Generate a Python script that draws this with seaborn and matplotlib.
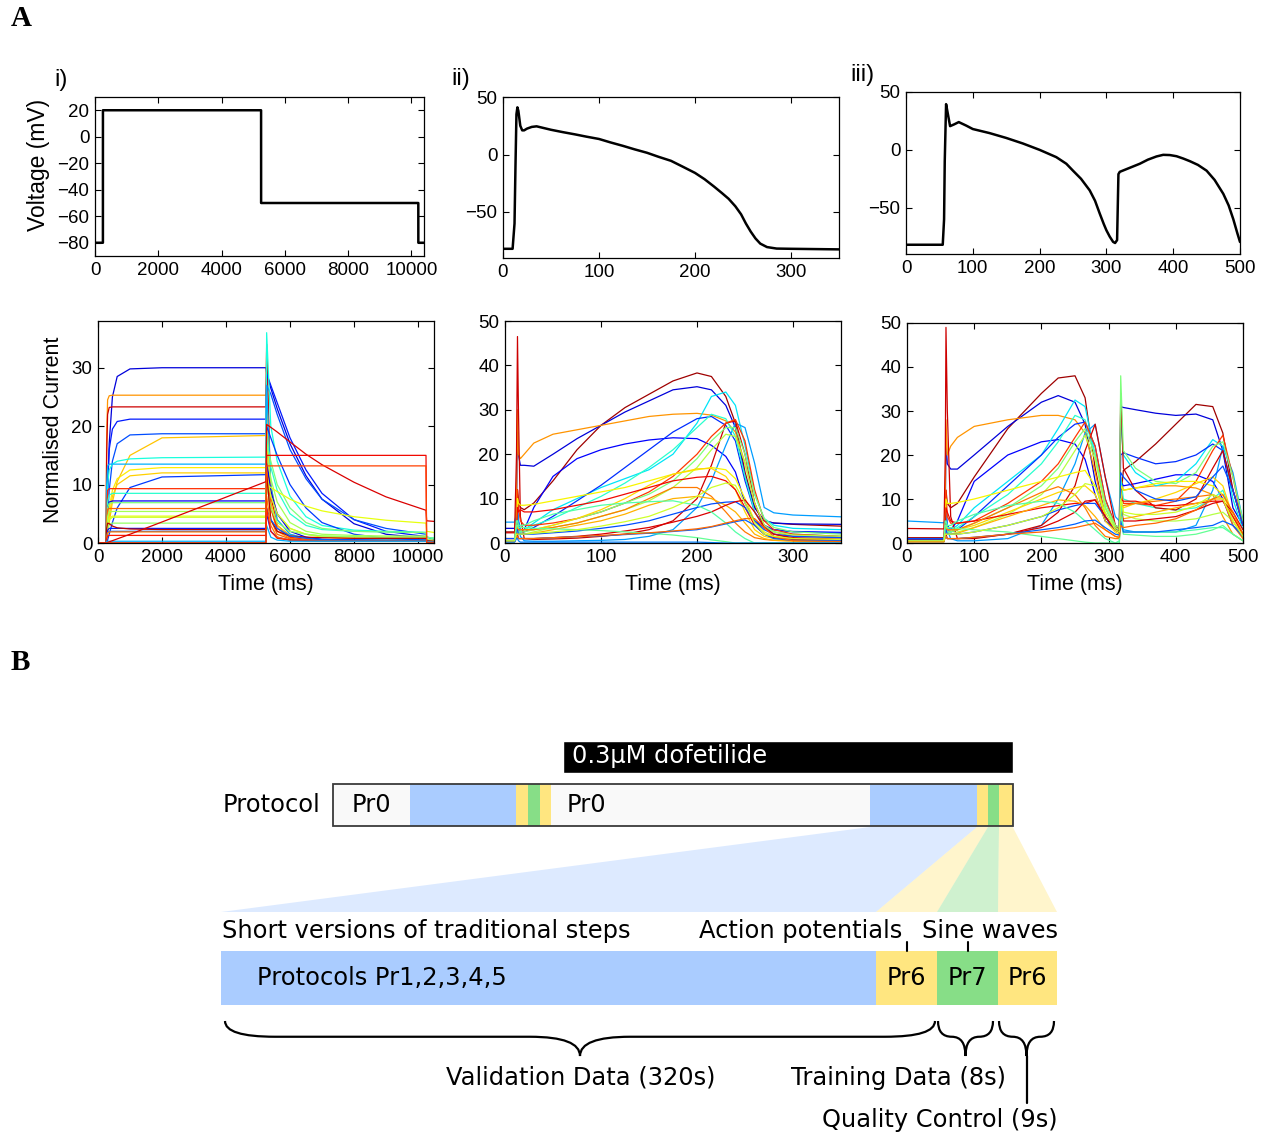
import numpy as np
import pandas as pd
import matplotlib
matplotlib.use('Agg')
import matplotlib.pyplot as plt
from matplotlib.patches import Polygon, Rectangle, PathPatch
from matplotlib.path import Path
import seaborn as sns

W, H = 1268, 1133

# ---------------- data: panel A, voltage protocols ----------------
step_time = [0, 250, 251, 5250, 5251, 10220, 10221, 10400]
step_volt = [-80, -80, 20, 20, -50, -50, -80, -80]

ap_time = [0, 10, 12, 13, 14, 15, 16, 18, 20, 22, 25, 30, 35, 40, 50, 62, 75, 87, 100, 112,
           125, 137, 150, 162, 175, 187, 200, 210, 220, 228, 235, 242, 248, 253, 258, 263,
           268, 275, 285, 300, 350]
ap_volt = [-82, -82, -60, -10, 35, 41, 38, 25, 21, 21, 22.5, 24, 24.5, 23.5, 21.5, 19.5, 17.5,
           15.5, 13.5, 10.5, 7.5, 4.5, 1.5, -2, -5.5, -10.5, -16, -21.5, -28, -33.5, -38.5, -45,
           -52, -60, -67, -73, -77.5, -80.5, -81.8, -82, -82.5]

ap2_time = [0, 55, 57, 58, 60, 63, 66, 72, 79, 90, 100, 125, 150, 175, 200, 225, 240, 250,
            262, 275, 283, 290, 296, 300, 305, 310, 313, 316, 318, 320, 335, 350, 362, 375,
            385, 395, 405, 415, 425, 437, 450, 462, 475, 483, 490, 496, 500]
ap2_volt = [-82, -82, -60, -10, 39.5, 30, 20.5, 22, 24, 21, 18, 14.5, 10.3, 5.5, 0, -6.3, -12,
            -18, -25, -35, -44, -55, -64, -69.5, -75, -79.5, -80.5, -78, -21, -19, -15.5, -12,
            -8.5, -5.7, -4.3, -4.5, -5.5, -7.5, -9.8, -13, -18, -26, -38, -48, -60, -72, -79.6]

# ---------------- data: panel A, normalised currents ----------------
t_iv = [0, 250, 270, 300, 350, 450, 600, 1000, 2000, 5250, 5270, 5400, 5600, 6000, 6500,
        7000, 8000, 9000, 10250, 10270, 10500]
iv_traces = [
    [0, 0, 2, 8, 17, 25, 28.5, 29.8, 30, 30, 29, 26.5, 23, 17, 11.5, 7.5, 3.3, 1.5, 0.8, 0.5, 0.3],
    [0, 0, 18, 24.5, 25.2, 25.3, 25.3, 25.3, 25.3, 25.3, 33, 6, 2, 0.8, 0.5, 0.4, 0.3, 0.3, 0.3, 0.2, 0.1],
    [0, 0, 15, 22, 23.2, 23.3, 23.3, 23.3, 23.3, 23.3, 34, 8, 3, 1.2, 0.8, 0.6, 0.5, 0.5, 0.5, 0.2, 0.1],
    [0, 0, 3, 10, 16, 19.5, 20.8, 21.2, 21.2, 21.2, 29, 27, 24, 18, 12.5, 8.5, 4, 2, 1.1, 0.6, 0.4],
    [0, 0, 1, 4, 9, 14, 17, 18.5, 18.7, 18.7, 27, 25.5, 22, 16, 11, 7.5, 4, 2.5, 1.5, 1, 0.6],
    [0, 0, 0.5, 1.5, 3.5, 7, 10.5, 15, 18, 18.4, 25, 10, 4, 1.5, 0.8, 0.5, 0.4, 0.3, 0.3, 0.2, 0.1],
    [0, 0, 5, 10, 12.5, 13.5, 14, 14.4, 14.6, 14.7, 36, 20, 14, 8, 4.5, 3, 2.2, 2, 1.8, 1, 0.8],
    [0, 0, 10, 13.2, 13.5, 13.5, 13.5, 13.5, 13.5, 13.5, 27, 10, 4, 1.5, 0.8, 0.6, 0.5, 0.5, 0.5, 0.3, 0.2],
    [0, 0, 1, 3, 6, 9, 11, 12.5, 12.9, 12.9, 20, 9, 5, 2.5, 1.5, 1, 0.8, 0.7, 0.6, 0.3, 0.2],
    [0, 0, 0.5, 2, 4.5, 8, 10, 11.5, 12, 12, 18, 7, 3, 1.2, 0.7, 0.5, 0.4, 0.3, 0.3, 0.2, 0.1],
    [0, 0, 0, 0.5, 1.5, 3.5, 6, 9.5, 11.3, 11.7, 20, 18, 15, 10, 6, 3.5, 1.5, 0.8, 0.5, 0.3, 0.2],
    [0, 0, 5, 9, 9.3, 9.3, 9.3, 9.3, 9.3, 9.3, 15, 6, 2.5, 1, 0.6, 0.5, 0.4, 0.4, 0.4, 0.2, 0.1],
    [0, 0, 3, 7, 8.2, 8.5, 8.5, 8.5, 8.5, 8.5, 18, 13, 9, 5, 3, 2.3, 2, 1.9, 1.8, 1, 0.8],
    [0, 0, 2, 6, 7, 7.2, 7.2, 7.2, 7.2, 7.2, 14, 9, 5, 2, 1, 0.6, 0.5, 0.4, 0.4, 0.2, 0.1],
    [0, 0, 3, 6, 6.8, 6.9, 6.9, 6.9, 6.9, 6.9, 17, 14, 10, 6, 3.5, 2.5, 2, 1.9, 1.8, 1, 0.8],
    [0, 0, 4, 5.8, 5.9, 5.9, 5.9, 5.9, 5.9, 5.9, 12, 4, 1.5, 0.7, 0.5, 0.4, 0.3, 0.3, 0.3, 0.2, 0.1],
    [0, 0, 2, 4.5, 5.3, 5.4, 5.4, 5.4, 5.4, 5.4, 15, 11, 7, 3.5, 2, 1.5, 1.3, 1.2, 1.2, 0.6, 0.5],
    [0, 0, 1, 3, 4.2, 4.6, 4.6, 4.6, 4.6, 4.6, 10, 9.5, 8.8, 7.5, 6.3, 5.5, 4.5, 3.9, 3.4, 2, 1.8],
    [0, 0, 1, 3, 4, 4.4, 4.4, 4.4, 4.4, 4.4, 12, 8, 5, 2.5, 1.5, 1.2, 1, 1, 1, 0.5, 0.4],
    [0, 0, 1, 2.5, 3.2, 3.4, 3.4, 3.4, 3.4, 3.4, 10, 6, 3.5, 2, 1.5, 1.2, 1.1, 1, 1, 0.5, 0.4],
    [0, 0, 1, 2.2, 2.5, 2.5, 2.5, 2.5, 2.5, 2.5, 5, 2, 1, 0.5, 0.4, 0.3, 0.3, 0.3, 0.3, 0.2, 0.1],
    [0, 0, 2.5, 3.4, 3.3, 2.9, 2.6, 2.4, 2.3, 2.3, 12, 4, 2, 1.2, 1, 0.9, 0.8, 0.8, 0.8, 0.4, 0.3],
    [0, 0, 1, 1.8, 2, 2, 2, 2, 2, 2, 6, 4, 2.5, 1.2, 0.8, 0.6, 0.5, 0.5, 0.5, 0.3, 0.2],
    [0, 0, 1, 1.7, 1.9, 1.9, 1.9, 1.9, 1.9, 1.9, 8, 3, 1, 0.5, 0.4, 0.3, 0.3, 0.3, 0.3, 0.2, 0.1],
    [0, 0, 0.8, 1.2, 1.3, 1.3, 1.3, 1.3, 1.3, 1.3, 6, 2, 0.8, 0.5, 0.4, 0.3, 0.3, 0.3, 0.3, 0.2, 0.1],
    [0, 0, 0.3, 0.3, 0.3, 0.3, 0.3, 0.3, 0.3, 0.3, 3, 1, 0.5, 0.3, 0.3, 0.3, 0.3, 0.3, 0.3, 0.2, 0.1],
    [0, 0, 0, 0.1, 0.2, 0.4, 0.7, 1.5, 3.6, 10.5, 20.3, 19.8, 19, 17.3, 15.2, 13.4, 10.4, 7.9, 5.6, 3.8, 3.7],
    [0, 0, 0, 0, 0, 0, 0, 0, 0, 0, 15, 15, 15, 15, 15, 15, 15, 15, 15, 0, 0],
    [0, 0, 0, 0, 0, 0, 0, 0, 0, 0, 13.2, 13.2, 13.2, 13.2, 13.2, 13.2, 13.2, 13.2, 13.2, 0, 0],
]
iv_hue = [0.08, 0.75, 0.93, 0.15, 0.2, 0.7, 0.38, 0.3, 0.66, 0.69, 0.18, 0.86, 0.4, 0.1, 0.5,
          0.8, 0.55, 0.63, 0.6, 0.53, 0.15, 0.95, 0.22, 0.78, 0.88, 0.3, 0.92, 0.9, 0.84]

t_v = [0, 10, 12, 13, 14, 16, 20, 30, 50, 75, 100, 125, 150, 175, 200, 215, 230, 240,
       250, 260, 270, 280, 300, 350]
v_traces = [
    [2.5, 2.5, 5, 12, 10, 8, 7.5, 9, 14, 21, 26.5, 30.5, 33.5, 36.5, 38.3, 37.5, 33, 27, 16, 8, 5, 4.5, 4.2, 3.8],
    [3.3, 3.3, 8, 25, 20, 17.5, 17.5, 17.3, 20, 23.5, 26.5, 29.5, 32, 34.5, 35.2, 34.5, 31, 26, 15, 8, 5, 4.5, 4.3, 4.2],
    [1, 1, 10, 30, 20, 19, 20, 22.5, 24.5, 25.5, 26.5, 27.5, 28.5, 29, 29.2, 28.8, 27.5, 25, 18, 9, 4, 2.5, 1.5, 1.2],
    [0.5, 0.5, 3, 8, 5, 3, 3, 8, 15, 19, 21, 22.3, 23.2, 23.7, 23.5, 22, 19.5, 16, 9, 5, 3.5, 3, 2.6, 2.4],
    [0.5, 0.5, 2, 5, 4, 3, 3, 4.5, 7.5, 10, 12.5, 14.5, 16.5, 20, 27, 33, 34, 31, 22, 11, 5.5, 4, 3.3, 3],
    [0.5, 0.5, 2, 4, 3, 2.5, 2.5, 3.5, 6, 9.5, 13, 17, 21, 25, 28, 28.5, 26.5, 23, 14, 7, 4, 3, 2.5, 2.2],
    [4.7, 4.7, 6, 8, 5, 1.5, 0.5, 0.4, 0.4, 0.5, 0.6, 0.8, 1.5, 3, 8, 14, 22, 27, 26, 18, 8, 6.8, 6.3, 5.9],
    [0.5, 0.5, 2, 3, 2.5, 2.5, 3, 4, 5.5, 8, 10.5, 13.5, 17, 21, 26, 29, 28, 24, 15, 7, 3.5, 2.5, 2, 1.5],
    [2.3, 2.3, 20, 46.5, 30, 6, 1, 0.8, 0.9, 1.1, 1.5, 2, 3, 5, 10, 17.5, 27, 27.5, 20, 9, 3.5, 2, 1.2, 0.8],
    [1, 1, 5, 12, 8, 5, 4, 4, 4.5, 5.5, 7, 9, 11.5, 15, 20, 24, 27, 27.8, 23, 12, 5, 3, 2, 1.5],
    [0.5, 0.5, 2, 3, 2.5, 2.5, 2.5, 3, 4, 5.5, 7, 9, 11, 14, 19, 23, 26, 26, 20, 11, 5.5, 3.5, 2.5, 2],
    [0.5, 0.5, 1.5, 2, 2, 2, 2, 2.5, 3.5, 4.5, 6, 7.5, 9.5, 12.5, 17, 21, 24.5, 24, 18, 9, 4, 2.5, 1.8, 1.5],
    [0.5, 0.5, 4, 10, 9, 8.5, 8.5, 8.7, 9.5, 10.5, 11.5, 12.5, 14, 15.5, 16.5, 17, 16.5, 14.5, 10, 5, 2.5, 1.5, 1, 0.8],
    [0.5, 0.5, 3, 4, 3, 3, 3, 3, 4, 5.5, 7.5, 10, 13, 15.5, 16.7, 16.8, 15, 12, 7, 3, 1.5, 1, 0.8, 0.6],
    [0.5, 0.5, 3, 8, 7, 7.5, 7, 7, 7.5, 8.5, 9.5, 11, 12.5, 14, 14.8, 15, 14, 12, 8, 4, 2, 1.2, 0.8, 0.6],
    [0.5, 0.5, 3, 3, 3, 3, 3, 3, 3.5, 4.5, 6, 7.5, 10, 12.5, 12.5, 10.5, 7, 4.5, 2.5, 1.2, 0.8, 0.6, 0.5, 0.4],
    [0.3, 0.3, 2, 2, 2, 2, 2, 2.2, 3, 4, 5, 6.5, 8.5, 10, 10.5, 10, 8.5, 7, 4.5, 2, 1, 0.6, 0.4, 0.3],
    [1, 1, 3, 3, 2, 2, 2, 2, 2.3, 2.7, 3.3, 4, 5, 6.5, 8, 8.8, 9.2, 9.3, 8, 5, 3, 2, 1.5, 1.2],
    [0.3, 0.3, 2, 2, 1, 1, 1, 1, 1.2, 1.5, 2, 2.7, 3.5, 4.7, 6, 7, 8.5, 9.3, 9.7, 7, 3.5, 2, 1, 0.8],
    [0.5, 0.5, 5, 5, 4, 4, 4, 5, 6.5, 7.5, 8.5, 9, 9.3, 9.5, 8.5, 7, 4.5, 2.5, 1, 0, 0, 0, 0, 0],
    [0.3, 0.3, 4, 4, 3.5, 3.5, 3.5, 3.3, 3.2, 3, 2.8, 2.5, 2.2, 1.8, 1.2, 0.7, 0.3, 0, 0, 0, 0, 0, 0, 0],
    [0.5, 0.5, 1.5, 1.5, 1, 1, 1, 1, 1.2, 1.4, 1.6, 1.9, 2.2, 2.6, 3, 3.6, 4.3, 4.8, 5.2, 4, 2, 1, 0.6, 0.5],
    [0.3, 0.3, 1.5, 1.5, 1, 1, 1, 1, 1.2, 1.4, 1.7, 2, 2.3, 2.7, 3.2, 3.7, 4.5, 5, 5.5, 5.5, 3.5, 1.5, 0.5, 0.3],
    [0.2, 0.2, 1, 1, 0.5, 0.2, 0.2, 0.2, 0.2, 0.2, 0.2, 0.2, 0.2, 0.2, 0.2, 0.1, 0, 0, 0, 0, 0, 0, 0, 0],
    [0.5, 0.5, 2, 2, 2, 2, 2, 2.2, 2.5, 3, 3.8, 4.8, 6, 8, 10.5, 12.5, 13.5, 13, 9, 4.5, 2, 1.5, 1, 0.8],
]
v_hue = [0.97, 0.08, 0.75, 0.12, 0.35, 0.17, 0.28, 0.4, 0.93, 0.85, 0.5, 0.57, 0.65,
         0.68, 0.9, 0.78, 0.72, 0.2, 0.92, 0.45, 0.47, 0.22, 0.8, 0.25, 0.6]

t_vi = [0, 55, 57, 58, 60, 65, 75, 100, 150, 200, 225, 250, 265, 280, 295, 310, 316, 318,
        322, 340, 370, 400, 430, 455, 470, 485, 500]
vi_traces = [
    [1.2, 1.2, 4, 12, 9, 8, 9, 15, 26, 34, 37.5, 38, 33, 17, 6, 3, 2.5, 10, 16.5, 18.5, 22.5, 27, 31.5, 31, 25, 12, 4],
    [0.8, 0.8, 8, 23, 18, 16.8, 16.8, 20, 26.5, 32, 33.5, 32, 27, 14, 5, 3.5, 3, 31, 30.8, 30.3, 29.5, 29, 29.3, 28, 21, 8, 4],
    [1, 1, 10, 28, 20, 22, 24, 26.5, 28, 29, 29, 28, 25, 16, 6, 3, 2.5, 15, 12, 12.5, 13, 13, 12.5, 11, 6, 2, 0.5],
    [0.5, 0.5, 3, 8, 4, 3, 5, 14, 20, 23, 23.5, 22.5, 19, 11, 5, 3.2, 3, 14, 13, 13.5, 14.5, 15.5, 15.5, 14, 10, 4, 1.5],
    [0.5, 0.5, 2, 5, 3.5, 3, 4, 8, 14, 20, 26, 32.5, 31, 20, 8, 3.5, 3, 28, 20, 16, 13, 14, 18, 23.5, 22, 10, 3],
    [0.5, 0.5, 2, 4, 3, 2.5, 3, 6, 13, 20, 24, 27, 27.5, 22, 10, 4, 3.5, 20, 20.5, 19.5, 18, 18.5, 20, 22.5, 21, 12, 5],
    [5, 4.6, 5.5, 8, 3, 1, 0.5, 0.5, 1, 4, 10, 18, 25, 27, 15, 6, 5, 8, 3, 2.5, 2.5, 2.5, 4, 12, 22, 16, 5],
    [0.5, 0.5, 2, 3, 2.5, 2.5, 3.5, 6, 11, 18, 23, 29, 28, 20, 8, 3.5, 3, 15, 10, 9, 8, 7.5, 8, 10, 12, 6, 2],
    [3.3, 3.2, 20, 49, 30, 6, 1, 1, 2, 4, 7, 13, 21, 27, 15, 4, 3, 34, 17, 12, 8, 7.5, 10, 17, 21, 12, 4],
    [1, 1, 5, 12, 6, 4.5, 4.5, 5, 9, 14, 18, 24, 27.5, 22, 10, 4, 3.5, 12, 9, 9, 8.5, 9.5, 14, 21, 24.5, 15, 4],
    [0.5, 0.5, 3, 3, 2.5, 2.5, 3, 4.5, 8, 13, 17, 23, 26, 20, 9, 4, 3.5, 38, 21, 17, 14, 13.5, 16, 22, 23, 15, 5],
    [0.5, 0.5, 2, 2, 2, 2, 2.5, 3.5, 6.5, 11, 15, 21, 24.5, 19, 8, 3.5, 3, 12, 6.5, 5.5, 5, 5, 5.5, 6.5, 7, 5, 1.5],
    [0.5, 0.5, 4, 10, 9, 9, 9.2, 10, 12, 14, 15, 16, 16.5, 13, 6, 3, 2.5, 13, 12, 12.5, 13.5, 14, 14, 13, 11, 6, 2],
    [0.5, 0.5, 3, 4, 3, 3, 3, 4, 7, 10, 11.5, 12.5, 13, 11, 5, 2.5, 2, 9, 8, 9, 10, 11.5, 13.5, 15, 13, 6, 2],
    [0.5, 0.5, 3, 8, 7, 5, 4.5, 5, 6.5, 8, 8.5, 9, 9, 9.8, 6, 3, 2.5, 10, 9.5, 9.5, 8.5, 8.5, 9, 9.5, 9.5, 6, 2],
    [0.5, 0.5, 3, 3, 3, 3, 3, 4.5, 8, 11.5, 12.8, 11, 8, 4, 1.5, 1, 1, 8, 8.5, 9, 9.5, 10, 10.5, 11, 10, 4, 1],
    [0.3, 0.3, 2, 2, 2, 2, 2.2, 3.5, 6, 8.5, 9.8, 9.5, 8.5, 6, 3, 1.5, 1.2, 6, 5.5, 6, 7, 8, 9, 10, 10, 5, 1.5],
    [1, 1, 3, 3, 2, 2, 2, 2.5, 4, 6, 7.5, 8.5, 9, 9, 6, 3, 2.5, 16, 15, 12, 10, 9.5, 10.5, 15, 17.5, 12, 4],
    [0.3, 0.3, 2, 2, 1, 1, 1, 1.2, 2, 3.5, 5, 7, 9.5, 9.8, 6, 3, 2.5, 9, 5, 5, 5.5, 6, 7.5, 9, 9.5, 7, 3],
    [0.5, 0.5, 5, 5, 4, 4, 5, 6.5, 8.5, 9.5, 9, 7, 5, 3, 1, 0, 0.5, 10, 2.5, 2.5, 2.5, 2.5, 3, 3.5, 3.5, 2, 0.5],
    [0.3, 0.3, 4, 4, 3.5, 3.5, 3.3, 3, 2.5, 1.5, 1, 0.5, 0.2, 0, 0, 0, 0, 5, 2, 1.8, 1.5, 1.5, 2, 3, 4, 2, 0.5],
    [0.5, 0.5, 1.5, 1.5, 1, 1, 1, 1.3, 2, 3, 3.5, 4.3, 5, 5.2, 3.5, 2, 1.8, 5, 2.5, 2.5, 2.5, 3, 3.5, 4, 5, 4, 1.5],
    [0.3, 0.3, 1.5, 1.5, 1, 1, 1, 1.3, 2, 2.5, 3, 3.5, 4, 4.5, 3, 1.5, 1.3, 4, 3.5, 4, 4.5, 5.5, 7.5, 10, 11, 7, 2],
    [0.5, 0.5, 2, 2, 2, 2, 2, 2.5, 4, 6, 8, 11, 13.5, 13, 7, 3, 2.5, 10, 7, 6.5, 6.5, 7, 8.5, 11, 10, 5, 1.5],
]
vi_hue = [0.97, 0.08, 0.75, 0.12, 0.35, 0.17, 0.28, 0.4, 0.93, 0.85, 0.5, 0.57, 0.65, 0.68,
          0.9, 0.78, 0.72, 0.2, 0.92, 0.45, 0.47, 0.22, 0.8, 0.6]

# ---------------- data: panel B, protocol schematic ----------------
prot_kinds = ['Pr0', 'Pr1-5', 'Pr6', 'Pr7', 'Pr6', 'Pr0', 'Pr1-5', 'Pr6', 'Pr7', 'Pr6']
prot_widths = [76.5, 106.5, 11.6, 12.2, 11.2, 319, 107, 11, 11, 13.7]
drug_start = 230
drug_label = '0.3μM dofetilide'
detail_labels = ['Protocols Pr1,2,3,4,5', 'Pr6', 'Pr7', 'Pr6']
detail_kinds = ['Pr1-5', 'Pr6', 'Pr7', 'Pr6']
detail_widths = [655, 61, 61, 59]

seg_colors = {'Pr0': '#f9f9f9', 'Pr1-5': '#aaccff', 'Pr6': '#ffe680', 'Pr7': '#87de87'}

# ---------------- style ----------------
sns.set_theme(style='white')
plt.rcParams['font.family'] = ['Liberation Sans', 'DejaVu Sans']
plt.rcParams['text.color'] = 'black'
plt.rcParams['axes.labelcolor'] = 'black'
cmap = plt.get_cmap('jet')

fig = plt.figure(figsize=(W / 100, H / 100), dpi=100)


def px_axes(left, top, right, bottom):
    return fig.add_axes([left / W, 1 - bottom / H, (right - left) / W, (bottom - top) / H])


def matlab_style(ax, xlim, ylim, xticks, yticks):
    ax.set_xlim(*xlim)
    ax.set_ylim(*ylim)
    ax.set_xticks(xticks)
    ax.set_yticks(yticks)
    ax.tick_params(direction='in', bottom=True, left=True, top=True, right=True,
                   length=4, width=0.8, labelsize=13.5, pad=4,
                   color='black', labelcolor='black')
    for s in ax.spines.values():
        s.set_visible(True)
        s.set_color('black')
        s.set_linewidth(0.9)
    ax.set_xlabel('')
    ax.set_ylabel('')


def current_panel(ax, t, traces, hues):
    rows = []
    for k, vals in enumerate(traces):
        for tt, v in zip(t, vals):
            rows.append((k, tt, v))
    df = pd.DataFrame(rows, columns=['trace', 't', 'I'])
    pal = {k: cmap(h) for k, h in enumerate(hues)}
    sns.lineplot(data=df, x='t', y='I', hue='trace', palette=pal, estimator=None,
                 legend=False, lw=0.9, ax=ax)


# ---- top row: voltage ----
ax1 = px_axes(95, 97, 424, 256)
sns.lineplot(x=step_time, y=step_volt, color='black', lw=1.8, estimator=None, ax=ax1)
matlab_style(ax1, (0, 10400), (-90, 30), range(0, 10001, 2000), range(-80, 21, 20))
ax1.set_ylabel('Voltage (mV)', fontsize=16.5)
ax1.yaxis.set_label_coords(-0.137, 0.572)

ax2 = px_axes(503, 97, 839, 258)
sns.lineplot(x=ap_time, y=ap_volt, color='black', lw=1.8, estimator=None, ax=ax2)
matlab_style(ax2, (0, 350), (-90, 50), [0, 100, 200, 300], [-50, 0, 50])

ax3 = px_axes(906, 92, 1240, 254)
sns.lineplot(x=ap2_time, y=ap2_volt, color='black', lw=1.8, estimator=None, ax=ax3)
matlab_style(ax3, (0, 500), (-90, 50), range(0, 501, 100), [-50, 0, 50])

# ---- bottom row: currents ----
ax4 = px_axes(98, 321, 434, 543)
current_panel(ax4, t_iv, iv_traces, iv_hue)
matlab_style(ax4, (0, 10500), (0, 38), range(0, 10001, 2000), [0, 10, 20, 30])
ax4.set_ylabel('Normalised Current', fontsize=15.5)
ax4.yaxis.set_label_coords(-0.101, 0.509)

ax5 = px_axes(505, 321, 841, 543)
current_panel(ax5, t_v, v_traces, v_hue)
matlab_style(ax5, (0, 350), (0, 50), [0, 100, 200, 300], range(0, 51, 10))

ax6 = px_axes(907, 323, 1243, 543)
current_panel(ax6, t_vi, vi_traces, vi_hue)
matlab_style(ax6, (0, 500), (0, 50), range(0, 501, 100), range(0, 51, 10))

for ax in (ax4, ax5, ax6):
    ax.set_xlabel('Time (ms)', fontsize=15.5)
    ax.xaxis.set_label_coords(0.5, -0.14)

# ---- overlay canvas for labels and panel B ----
axb = fig.add_axes([0, 0, 1, 1])
axb.set_xlim(0, W)
axb.set_ylim(H, 0)
axb.axis('off')

for txt, x, y in [('i)', 61, 80), ('ii)', 461, 79), ('iii)', 862, 75)]:
    axb.text(x, y, txt, fontsize=17, ha='center', va='center')
for txt, y in [('A', 19), ('B', 662)]:
    axb.text(11, y, txt, fontsize=21, fontweight='bold', ha='left', va='center',
             family=['Liberation Serif', 'DejaVu Serif'])

bfont = ['DejaVu Sans']
bsize = 17.4

# protocol bar
px0, py, ph = 333, 805, 42
prot_left = px0 + np.concatenate([[0], np.cumsum(prot_widths)[:-1]])
prot_total = float(np.sum(prot_widths))
axb.barh(py, prot_widths, left=prot_left, height=ph,
         color=[seg_colors[k] for k in prot_kinds], edgecolor='none')
axb.add_patch(Rectangle((px0, py - ph / 2), prot_total, ph, fill=False, ec='#3a3a3a', lw=1.3))
axb.text(320, py, 'Protocol', fontsize=bsize, family=bfont, ha='right', va='center')
axb.text(prot_left[0] + prot_widths[0] / 2, py, 'Pr0', fontsize=bsize, family=bfont,
         ha='center', va='center')
axb.text(prot_left[5] + 16, py, 'Pr0', fontsize=bsize, family=bfont, ha='left', va='center')

# drug bar
axb.barh(757, prot_total - drug_start, left=px0 + drug_start, height=32, color='black')
axb.text(px0 + drug_start + 9, 756, drug_label, color='white', fontsize=bsize, family=bfont,
         ha='left', va='center')

# detail bar
dx0, dy, dh = 221, 978, 54
det_left = dx0 + np.concatenate([[0], np.cumsum(detail_widths)[:-1]])
axb.barh(dy, detail_widths, left=det_left, height=dh,
         color=[seg_colors[k] for k in detail_kinds], edgecolor='none')
axb.text(det_left[0] + 36, dy, detail_labels[0], fontsize=bsize, family=bfont,
         ha='left', va='center')
for i in range(1, 4):
    axb.text(det_left[i] + detail_widths[i] / 2, dy, detail_labels[i], fontsize=bsize,
             family=bfont, ha='center', va='center')

# zoom wedges from last four protocol segments to detail bar
top_y, bot_y = py + ph / 2 + 1, 912
for i in range(4):
    j = 6 + i
    poly = [(prot_left[j], top_y), (prot_left[j] + prot_widths[j], top_y),
            (det_left[i] + detail_widths[i], bot_y), (det_left[i], bot_y)]
    axb.add_patch(Polygon(poly, closed=True, fc=seg_colors[detail_kinds[i]], ec='none', alpha=0.4))

# annotations above detail bar
axb.text(222, 931, 'Short versions of traditional steps', fontsize=bsize, family=bfont,
         ha='left', va='center')
axb.text(902, 931, 'Action potentials', fontsize=bsize, family=bfont, ha='right', va='center')
axb.text(922, 931, 'Sine waves', fontsize=bsize, family=bfont, ha='left', va='center')
for i in (1, 2):
    xc = det_left[i] + detail_widths[i] / 2
    axb.plot([xc, xc], [942, dy - dh / 2], color='black', lw=1.5)


def brace(x0, x1, top, depth):
    xm = (x0 + x1) / 2
    ym = top + depth * 0.45
    a = min((x1 - x0) / 4, 50)
    verts = [(x0, top), (x0, ym), (x0 + a, ym), (xm - a, ym), (xm, ym), (xm, top + depth),
             (xm, ym), (xm + a, ym), (x1 - a, ym), (x1, ym), (x1, top)]
    codes = [Path.MOVETO, Path.CURVE3, Path.CURVE3, Path.LINETO, Path.CURVE3, Path.CURVE3,
             Path.CURVE3, Path.CURVE3, Path.LINETO, Path.CURVE3, Path.CURVE3]
    axb.add_patch(PathPatch(Path(verts, codes), fc='none', ec='black', lw=1.6))
    return xm, top + depth


brace_top, brace_depth = 1021, 35
brace(det_left[0] + 4, det_left[1] + detail_widths[1] - 2, brace_top, brace_depth)
brace(det_left[2] + 1, det_left[2] + detail_widths[2] - 5, brace_top, brace_depth)
qx, qy = brace(det_left[3] + 1, det_left[3] + detail_widths[3] - 3, brace_top, brace_depth)
axb.plot([qx, qx], [qy, 1103], color='black', lw=1.6)

axb.text(581, 1078, 'Validation Data (320s)', fontsize=bsize, family=bfont, ha='center', va='center')
axb.text(1006, 1078, 'Training Data (8s)', fontsize=bsize, family=bfont, ha='right', va='center')
axb.text(1058, 1120, 'Quality Control (9s)', fontsize=bsize, family=bfont, ha='right', va='center')

fig.savefig('out.png', dpi=100)
